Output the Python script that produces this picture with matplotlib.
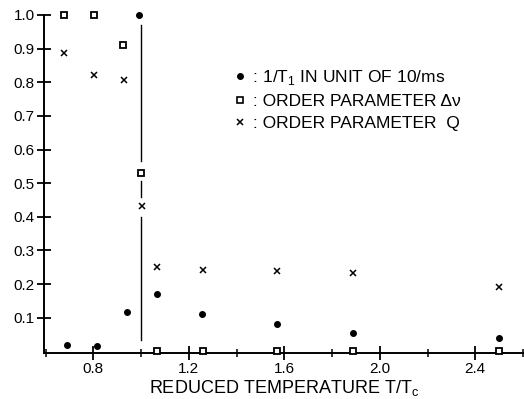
import matplotlib
matplotlib.use("Agg")
import matplotlib.pyplot as plt
from matplotlib.ticker import MultipleLocator, FixedLocator
from matplotlib.lines import Line2D

plt.rcParams['font.family'] = ['Liberation Sans', 'DejaVu Sans']

# data
t1_x = [0.688, 0.815, 0.94, 0.99, 1.065, 1.256, 1.57, 1.889, 2.499]
t1_y = [0.018, 0.017, 0.118, 1.0, 0.17, 0.11, 0.08, 0.055, 0.039]

dnu_x = [0.678, 0.804, 0.925, 1.0, 1.065, 1.258, 1.57, 1.889, 2.499]
dnu_y = [1.0, 1.0, 0.911, 0.529, 0.0, 0.0, 0.0, 0.0, 0.0]

q_x = [0.678, 0.804, 0.928, 1.005, 1.065, 1.258, 1.57, 1.889, 2.499]
q_y = [0.887, 0.821, 0.807, 0.433, 0.252, 0.242, 0.239, 0.234, 0.191]

# transition line at Tc (segments between markers)
tc_x = 1.0
tc_segments = [(0.97, 0.565), (0.505, 0.46), (0.40, 0.034)]

yticks = [0.1, 0.2, 0.3, 0.4, 0.5, 0.6, 0.7, 0.8, 0.9, 1.0]
xticks = [0.8, 1.2, 1.6, 2.0, 2.4]

labels = [r" : 1/T$_\mathregular{1}$ IN UNIT OF 10/ms",
          " : ORDER PARAMETER Δν",
          " : ORDER PARAMETER  Q"]

fig = plt.figure(figsize=(5.24, 3.99), dpi=100)
ax = fig.add_axes([44.3/524, 1-352.7/399, 1-44.3/524, (352.7-15)/399])

for y0, y1 in tc_segments:
    ax.plot([tc_x, tc_x], [y0, y1], color='black', lw=1.0)

ax.plot(t1_x, t1_y, 'o', color='black', ms=4, clip_on=False, zorder=3)
ax.plot(dnu_x, dnu_y, 's', mfc='white', mec='black', mew=1.3, ms=4.5, clip_on=False, zorder=4)
ax.plot(q_x, q_y, 'x', color='black', mew=1.1, ms=4.8, clip_on=False, zorder=3)

ax.set_xlim(0.5946, 2.604)
ax.set_ylim(-0.004, 1.0)

ax.spines['top'].set_visible(False)
ax.spines['right'].set_visible(False)
for s in ('left', 'bottom'):
    ax.spines[s].set_linewidth(1.4)

ax.yaxis.set_major_locator(FixedLocator(yticks))
ax.xaxis.set_major_locator(FixedLocator(xticks))
ax.xaxis.set_minor_locator(MultipleLocator(0.2))
ax.set_yticklabels([f"{v:.1f}" for v in yticks])
ax.set_xticklabels([f"{v:.1f}" for v in xticks])
ax.tick_params(axis='both', which='major', direction='inout', length=10, width=1.3,
               labelsize=11, pad=2)
ax.tick_params(axis='x', which='minor', direction='inout', length=6, width=1.1)

ax.set_xlabel(r"REDUCED TEMPERATURE T/T$_\mathregular{c}$", fontsize=13, labelpad=1)

handles = [Line2D([], [], ls='none', marker='o', color='black', ms=4),
           Line2D([], [], ls='none', marker='s', mfc='white', mec='black', mew=1.2, ms=4),
           Line2D([], [], ls='none', marker='x', color='black', mew=1.1, ms=4.8)]
ax.legend(handles, labels, loc='upper left', bbox_to_anchor=(0.378, 0.87),
          frameon=False, fontsize=12.5, handlelength=0.6, handletextpad=0.2,
          labelspacing=0.42, borderpad=0)

fig.savefig("out.png", dpi=100, facecolor='white')
